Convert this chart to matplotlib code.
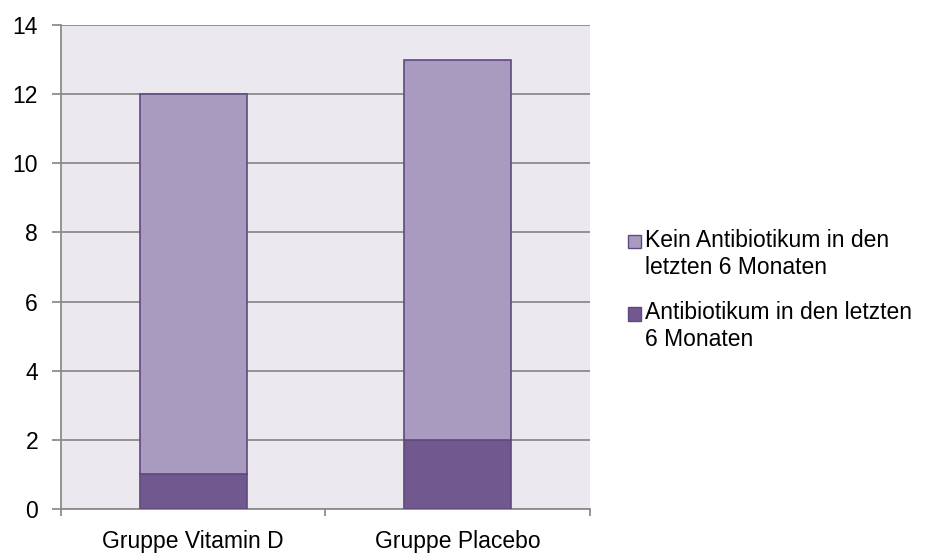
import matplotlib
matplotlib.use("Agg")
import matplotlib.pyplot as plt
from matplotlib.patches import Patch, Rectangle
from matplotlib.legend_handler import HandlerPatch

plt.rcParams['font.family'] = ['Liberation Sans', 'DejaVu Sans']

categories = ["Gruppe Vitamin D", "Gruppe Placebo"]
with_antibiotic = [1, 2]
without_antibiotic = [11, 11]
series_labels = ["Kein Antibiotikum in den\nletzten 6 Monaten",
                 "Antibiotikum in den letzten\n6 Monaten"]
y_ticks = [0, 2, 4, 6, 8, 10, 12, 14]

dark = "#71588F"
light = "#A99BBF"
edge = "#5E4A7C"
grid_col = "#8C8C8C"
fs = 16.5

fig = plt.figure(figsize=(9.28, 5.53), dpi=100)
ax = fig.add_axes([61 / 928, 1 - 509 / 553, (590 - 61) / 928, (509 - 25) / 553])
ax.set_facecolor("#EBE8EF")

x = [0.5, 1.5]
w = 0.405
ax.bar(x, with_antibiotic, width=w, color=dark, edgecolor=edge, linewidth=1.2, zorder=3)
ax.bar(x, without_antibiotic, width=w, bottom=with_antibiotic, color=light,
       edgecolor=edge, linewidth=1.2, zorder=3)

ax.set_xlim(0, 2)
ax.set_ylim(0, 14)
ax.set_yticks(y_ticks)
ax.set_yticklabels([str(t) for t in y_ticks], fontsize=fs)
ax.yaxis.grid(True, color=grid_col, linewidth=1.3, zorder=1)
ax.set_axisbelow(True)

# Category labels sit between the x-axis tick marks
ax.set_xticks([0, 1, 2])
ax.set_xticklabels([])
ax.set_xticks(x, minor=True)
ax.set_xticklabels(categories, minor=True, fontsize=fs)
ax.tick_params(axis='x', which='minor', length=0, pad=15)
ax.tick_params(axis='x', which='major', length=5, color=grid_col, width=1.3)
ax.tick_params(axis='y', length=6.5, color=grid_col, width=1.3, pad=10)

for side in ["top", "right"]:
    ax.spines[side].set_visible(False)
ax.spines["left"].set_color(grid_col)
ax.spines["left"].set_linewidth(1.3)
ax.spines["bottom"].set_color(grid_col)
ax.spines["bottom"].set_linewidth(1.3)


# Legend keys aligned with the first line of each two-line label
def top_aligned_square(legend, orig_handle, xdescent, ydescent, width, height, fontsize):
    return Rectangle((-xdescent, -ydescent + 0.57 * fontsize), width, height)


handles = [Patch(facecolor=light, edgecolor=edge), Patch(facecolor=dark, edgecolor=edge)]
fig.legend(handles, series_labels, loc="center left", bbox_to_anchor=(619 / 928, 1 - 290 / 553),
           frameon=False, fontsize=fs, handlelength=0.55, handleheight=0.55,
           handletextpad=0.2, labelspacing=1.0, borderpad=0.2, borderaxespad=0.2,
           handler_map={Patch: HandlerPatch(patch_func=top_aligned_square)})

fig.savefig("out.png", dpi=100)
